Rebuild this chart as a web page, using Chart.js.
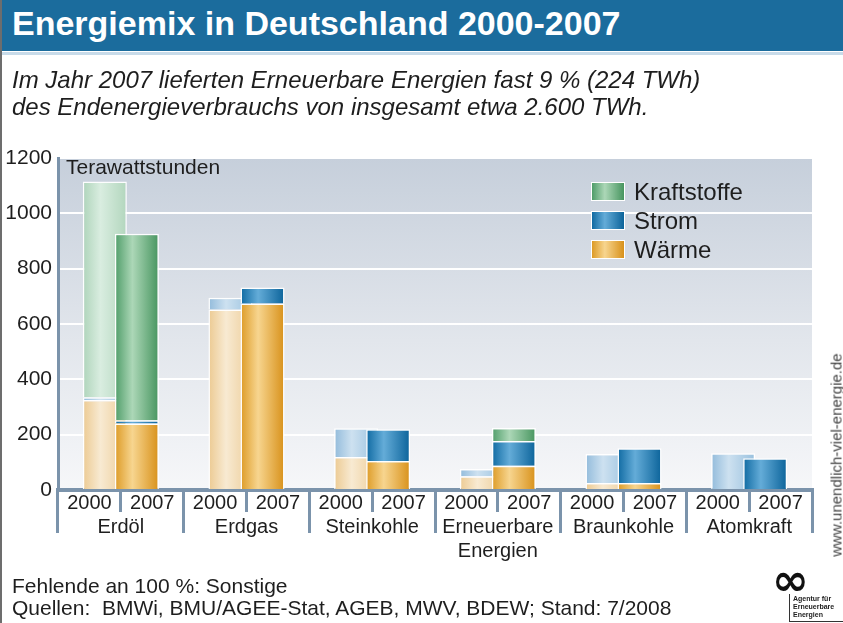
<!DOCTYPE html>
<html lang="de">
<head>
<meta charset="utf-8">
<title>Energiemix in Deutschland 2000-2007</title>
<script src="https://cdn.jsdelivr.net/npm/chart.js@4.4.1/dist/chart.umd.min.js"></script>
<style>
  html, body { margin: 0; padding: 0; background: #fff; }
  #page { position: relative; width: 843px; height: 623px; overflow: hidden;
          font-family: "Liberation Sans", Arial, sans-serif; color: #1e1e1e; }
  #frame { position: absolute; left: 0; top: 0; width: 2px; height: 623px; background: #6d6d6d; z-index: 3; }
  #head { position: absolute; left: 0; top: 0; width: 843px; height: 51px; background: #1b6c9d; z-index: 2; }
  #head h1 { margin: 0; position: absolute; left: 12px; top: 4px; line-height: 40px;
             font: bold 34px "Liberation Sans", Arial, sans-serif; color: #fff; white-space: nowrap; }
  #rule { position: absolute; left: 0; top: 52px; width: 843px; height: 3px; background: #c8dbe9; z-index: 2; }
  #sub { position: absolute; left: 12px; top: 66px; font: italic 24px "Liberation Sans", Arial, sans-serif;
         line-height: 27px; white-space: nowrap; z-index: 2; }
  #chart { position: absolute; left: 0; top: 0; z-index: 1; }
  #unit { position: absolute; left: 66px; top: 155px; font-size: 21px; z-index: 2; }
  #legend { position: absolute; left: 591px; top: 177px; z-index: 2; font-size: 24px; }
  #legend .row { height: 29px; line-height: 29px; white-space: nowrap; }
  #legend .box { display: inline-block; width: 32px; height: 17px; border: 1px solid #fff;
                 vertical-align: middle; margin: -4px 9px 0 0; }
  #foot { position: absolute; left: 12px; top: 575px; font-size: 21px; line-height: 22px; z-index: 2; white-space: pre; }
  #url { position: absolute; left: 836px; top: 455px; transform: translate(-50%, -50%) rotate(-90deg);
         white-space: nowrap; font-size: 15px; color: #444; z-index: 2; }
  #logo { position: absolute; left: 772px; top: 560px; z-index: 2; }
  #logo .inf { font: bold 44px "DejaVu Sans", sans-serif; line-height: 40px; color: #111; margin-left: 0; }
  #logo .txt { position: absolute; left: 17px; top: 34px; padding: 1px 0 2px 3px; width: 50px;
               border-left: 1px solid #333; border-bottom: 1px solid #333;
               font: bold 7px "Liberation Sans", Arial, sans-serif; line-height: 8px; color: #222; }
</style>
</head>
<body>
<div id="page">
  <div id="frame"></div>
  <div id="head"><h1>Energiemix in Deutschland 2000-2007</h1></div>
  <div id="rule"></div>
  <div id="sub">Im Jahr 2007 lieferten Erneuerbare Energien fast 9 % (224 TWh)<br>des Endenergieverbrauchs von insgesamt etwa 2.600 TWh.</div>
  <canvas id="chart" width="843" height="623"></canvas>
  <div id="unit">Terawattstunden</div>
  <div id="legend"></div>
  <div id="foot">Fehlende an 100 %: Sonstige
Quellen:  BMWi, BMU/AGEE-Stat, AGEB, MWV, BDEW; Stand: 7/2008</div>
  <div id="url">www.unendlich-viel-energie.de</div>
  <div id="logo"><div class="inf">∞</div><div class="txt">Agentur für<br>Erneuerbare<br>Energien</div></div>
</div>
<script>
// Terawattstunden, gelesen aus der Grafik
var categories = ['Erdöl', 'Erdgas', 'Steinkohle', ['Erneuerbare', 'Energien'], 'Braunkohle', 'Atomkraft']
var years = ['2000', '2007']
var yTicks = [0, 200, 400, 600, 800, 1000, 1200]

var waerme2000 = [325, 652, 119, 50, 25, null]
var strom2000 = [10, 43, 104, 26, 105, 133]
var kraft2000 = [780, null, null, null, null, null]

var waerme2007 = [240, 674, 105, 88, 25, null]
var strom2007 = [12, 58, 115, 89, 126, 115]
var kraft2007 = [674, null, null, 47, null, null]

var seriesNames = ['Wärme', 'Strom', 'Kraftstoffe']

// colour ramps: left edge, highlight, right edge
var shades = {
  'Wärme 2000': ['#ecca92', '#f8ead2', '#eccb95'],
  'Strom 2000': ['#92bbdb', '#cde1f0', '#98c0de'],
  'Kraftstoffe 2000': ['#aed4ba', '#d9ede0', '#b2d6bd'],
  'Wärme 2007': ['#dd9b26', '#f7d58f', '#d8911a'],
  'Strom 2007': ['#0f6aa2', '#64acd8', '#0b639a'],
  'Kraftstoffe 2007': ['#4f9d69', '#acd7b7', '#47955f']
}

// narrow font is closer to the original subtitle, if it is installed
function hasFont(name) {
  var c = document.createElement('canvas').getContext('2d')
  c.font = '40px monospace'
  var a = c.measureText('Energiemix Wg').width
  c.font = '40px "' + name + '", monospace'
  return c.measureText('Energiemix Wg').width !== a
}
if (hasFont('Liberation Sans Narrow')) {
  document.getElementById('sub').style.font = 'italic 29px "Liberation Sans Narrow", sans-serif'
  document.getElementById('sub').style.lineHeight = '27px'
}

// legend, 2007 colours, reversed like the original
var legend = document.getElementById('legend')
seriesNames.slice().reverse().forEach(function (name) {
  var s = shades[name + ' 2007']
  var row = document.createElement('div')
  row.className = 'row'
  row.innerHTML = '<span class="box" style="background:linear-gradient(90deg,' + s[0] + ',' + s[1] + ' 40%,' + s[2] + ')"></span>' + name
  legend.appendChild(row)
})

function ds(name, year, data) {
  return {
    label: name + ' ' + year,
    data: data,
    stack: year,
    xAxisID: 'x',
    shade: shades[name + ' ' + year],
    backgroundColor: shades[name + ' ' + year][0],
    borderColor: 'rgba(255,255,255,0.95)',
    borderWidth: 1.5
  }
}

var yearLabels = []
categories.forEach(function () { yearLabels.push(years[0], years[1]) })

var axisBlue = '#7b93ab'

// light grey-blue backdrop behind the bars
var backdrop = {
  id: 'backdrop',
  beforeDraw: function (chart) {
    var a = chart.chartArea, ctx = chart.ctx
    var g = ctx.createLinearGradient(0, a.top, 0, a.bottom)
    g.addColorStop(0, '#c6cfdb')
    g.addColorStop(0.55, '#e2e6ec')
    g.addColorStop(1, '#f6f7f9')
    ctx.save()
    ctx.fillStyle = g
    ctx.fillRect(a.left, a.top, a.right - a.left, a.bottom - a.top)
    ctx.restore()
  }
}

// 2007 bars must lie over the 2000 bars, and each bar gets its own shading
var barShading = {
  id: 'barShading',
  beforeDatasetsDraw: function (chart) {
    var ctx = chart.ctx, a = chart.chartArea
    chart.data.datasets.forEach(function (d, i) {
      var meta = chart.getDatasetMeta(i)
      if (meta.hidden) return
      meta.data.forEach(function (bar) {
        var w = bar.width
        var g = ctx.createLinearGradient(bar.x - w / 2, 0, bar.x + w / 2, 0)
        g.addColorStop(0, d.shade[0])
        g.addColorStop(0.4, d.shade[1])
        g.addColorStop(1, d.shade[2])
        bar.options = Object.assign({}, bar.options, { backgroundColor: g })
      })
      ctx.save()
      ctx.beginPath()
      ctx.rect(a.left, a.top - 2, a.right - a.left, a.bottom - a.top + 2)
      ctx.clip()
      meta.controller.draw()
      ctx.restore()
    })
    return false
  }
}

var chart = new Chart(document.getElementById('chart'), {
  type: 'bar',
  data: {
    labels: categories,
    datasets: [
      ds('Wärme', '2000', waerme2000),
      ds('Strom', '2000', strom2000),
      ds('Kraftstoffe', '2000', kraft2000),
      ds('Wärme', '2007', waerme2007),
      ds('Strom', '2007', strom2007),
      ds('Kraftstoffe', '2007', kraft2007)
    ]
  },
  options: {
    responsive: false,
    animation: false,
    events: [],
    categoryPercentage: 0.51,
    barPercentage: 1.375,
    layout: { padding: { top: 158, right: 31, bottom: 0, left: 0 } },
    plugins: {
      legend: { display: false },
      tooltip: { enabled: false }
    },
    scales: {
      x: {
        type: 'category',
        position: 'bottom',
        weight: 1,
        stacked: true,
        offset: true,
        afterFit: function (s) { s.height = 623 - 490 - 22 },
        border: { display: false },
        grid: { offset: true, drawOnChartArea: false, drawTicks: true, tickLength: 21, color: axisBlue, lineWidth: 3 },
        ticks: { padding: -18, color: '#1e1e1e', font: { family: 'Liberation Sans', size: 20 }, maxRotation: 0, autoSkip: false }
      },
      yr: {
        type: 'category',
        labels: yearLabels,
        position: 'bottom',
        weight: 0,
        offset: true,
        afterFit: function (s) { s.height = 22 },
        border: { display: true, color: axisBlue, width: 4 },
        grid: { offset: true, drawOnChartArea: false, drawTicks: true, tickLength: 22, color: axisBlue, lineWidth: 3 },
        ticks: { padding: -21, color: '#1e1e1e', font: { family: 'Liberation Sans', size: 20 }, maxRotation: 0, autoSkip: false }
      },
      y: {
        stacked: true,
        min: yTicks[0],
        max: yTicks[yTicks.length - 1],
        afterFit: function (s) { s.width = 58 },
        border: { display: true, color: axisBlue, width: 3 },
        grid: { color: '#ffffff', lineWidth: 2, drawTicks: false },
        ticks: {
          stepSize: yTicks[1] - yTicks[0],
          padding: 6,
          color: '#1e1e1e',
          font: { family: 'Liberation Sans', size: 21 },
          callback: function (v) { return String(v) }
        }
      }
    }
  },
  plugins: [backdrop, barShading]
})
</script>
</body>
</html>
